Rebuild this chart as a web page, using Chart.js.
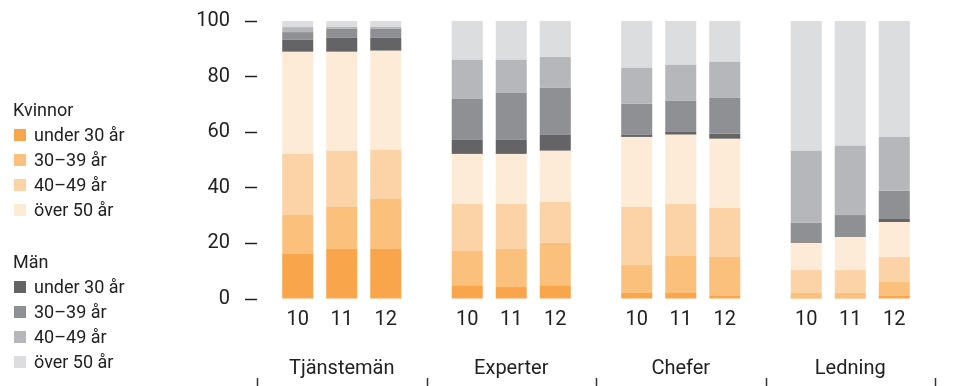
<!DOCTYPE html>
<html>
<head>
<meta charset="utf-8">
<script src="https://cdn.jsdelivr.net/npm/chart.js@4"></script>
<style>
  body { margin: 0; background: #fff; font-family: Roboto, sans-serif; }
  #wrap { position: relative; width: 970px; height: 386px; }
  #legend { position: absolute; left: 14px; top: 97px; font-size: 18px; color: #222; line-height: 25px; }
  #legend .head { margin-left: -1px; }
  #legend .item { display: flex; align-items: center; }
  #legend .sw { width: 12px; height: 12px; margin-right: 8px; }
  #legend .gap { height: 27px; }
</style>
</head>
<body>
<div id="wrap">
  <canvas id="chart" width="970" height="386"></canvas>
  <div id="legend"></div>
</div>
<script>
const groups = ['Tjänstemän', 'Experter', 'Chefer', 'Ledning'];
const years = ['10', '11', '12'];
const ageLabels = ['under 30 år', '30–39 år', '40–49 år', 'över 50 år'];

// values per group, each [year10, year11, year12]
const kvUnder30 = [[16.2, 18.0, 18.0], [4.9, 4.3, 4.9], [2.2, 2.2, 1.1], [0.4, 0.4, 1.1]];
const kv30_39   = [[14.0, 15.1, 18.0], [12.4, 13.7, 15.3], [10.0, 13.3, 14.0], [1.8, 1.8, 5.0]];
const kv40_49   = [[22.0, 20.2, 17.7], [16.9, 16.2, 14.7], [20.9, 18.7, 17.7], [8.2, 8.2, 9.0]];
const kvOver50  = [[36.7, 35.6, 35.6], [18.0, 18.0, 18.4], [25.2, 24.9, 24.8], [9.8, 11.9, 12.6]];
const manUnder30 = [[4.4, 5.1, 4.7], [5.1, 5.1, 5.8], [0.8, 1.0, 1.8], [0.3, 0.0, 1.1]];
const man30_39   = [[2.7, 3.2, 3.2], [14.7, 16.9, 16.9], [11.1, 11.2, 13.0], [6.9, 7.9, 10.1]];
const man40_49   = [[1.8, 0.7, 0.7], [14.1, 11.9, 11.1], [13.0, 13.0, 12.9], [25.9, 24.9, 19.4]];
const manOver50  = [[2.2, 2.1, 2.1], [13.9, 13.9, 12.9], [16.8, 15.7, 14.7], [46.7, 44.9, 41.7]];

const kvColors = ['#f9a54b', '#fbc07b', '#fcd3a7', '#fdebd7'];
const manColors = ['#646466', '#8f9094', '#b6b7ba', '#dcdddf'];

const series = [
  { name: 'Kvinnor ' + ageLabels[0], values: kvUnder30, color: kvColors[0] },
  { name: 'Kvinnor ' + ageLabels[1], values: kv30_39, color: kvColors[1] },
  { name: 'Kvinnor ' + ageLabels[2], values: kv40_49, color: kvColors[2] },
  { name: 'Kvinnor ' + ageLabels[3], values: kvOver50, color: kvColors[3] },
  { name: 'Män ' + ageLabels[0], values: manUnder30, color: manColors[0] },
  { name: 'Män ' + ageLabels[1], values: man30_39, color: manColors[1] },
  { name: 'Män ' + ageLabels[2], values: man40_49, color: manColors[2] },
  { name: 'Män ' + ageLabels[3], values: manOver50, color: manColors[3] }
];

let datasets = [];
years.forEach((yr, yi) => {
  series.forEach(s => {
    datasets.push({
      label: s.name,
      data: s.values.map(g => g[yi]),
      backgroundColor: s.color,
      stack: yr,
      borderWidth: 0
    });
  });
});

// legend
let legend = document.getElementById('legend');
function addBlock(title, colors) {
  let h = document.createElement('div');
  h.className = 'head';
  h.textContent = title;
  legend.appendChild(h);
  ageLabels.forEach((lab, i) => {
    let d = document.createElement('div');
    d.className = 'item';
    d.innerHTML = `<span class="sw" style="background:${colors[i]}"></span>${lab}`;
    legend.appendChild(d);
  });
}
addBlock('Kvinnor', kvColors);
let gap = document.createElement('div');
gap.className = 'gap';
legend.appendChild(gap);
addBlock('Män', manColors);

const textColor = '#222';

const extras = {
  id: 'extras',
  afterDraw(chart) {
    let ctx = chart.ctx;
    let area = chart.chartArea;
    ctx.save();
    ctx.fillStyle = textColor;
    ctx.font = '20px Roboto';
    ctx.textAlign = 'center';
    ctx.textBaseline = 'middle';
    years.forEach((yr, yi) => {
      let meta = chart.getDatasetMeta(yi * series.length);
      meta.data.forEach(el => {
        ctx.fillText(yr, el.x, 320);
      });
    });
    // group separators at the bottom
    ctx.strokeStyle = '#333';
    ctx.lineWidth = 1.5;
    let w = (area.right - area.left) / groups.length;
    for (let i = 0; i <= groups.length; i++) {
      let x = Math.round(area.left + i * w) + 0.5;
      ctx.beginPath();
      ctx.moveTo(x, 378);
      ctx.lineTo(x, 386);
      ctx.stroke();
    }
    ctx.restore();
  }
};

new Chart(document.getElementById('chart'), {
  type: 'bar',
  data: { labels: groups, datasets: datasets },
  plugins: [extras],
  options: {
    responsive: false,
    animation: false,
    categoryPercentage: 0.779,
    barPercentage: 0.705,
    layout: { padding: { top: 21, right: 35, left: 0, bottom: 0 } },
    plugins: { legend: { display: false }, tooltip: { enabled: false } },
    scales: {
      x: {
        stacked: true,
        grid: { display: false },
        border: { display: false },
        ticks: { color: textColor, font: { family: 'Roboto', size: 20 }, padding: 50 },
        afterFit: s => { s.height = 87; }
      },
      y: {
        stacked: true,
        min: 0,
        max: 100,
        border: { display: false },
        grid: { drawOnChartArea: false, tickLength: 12, tickColor: '#222', tickWidth: 1.5 },
        ticks: { stepSize: 20, color: textColor, font: { family: 'Roboto', size: 20 }, padding: 15 },
        afterFit: s => { s.width = 257; s.paddingTop = 0; s.paddingBottom = 0; }
      }
    }
  }
});
</script>
</body>
</html>
